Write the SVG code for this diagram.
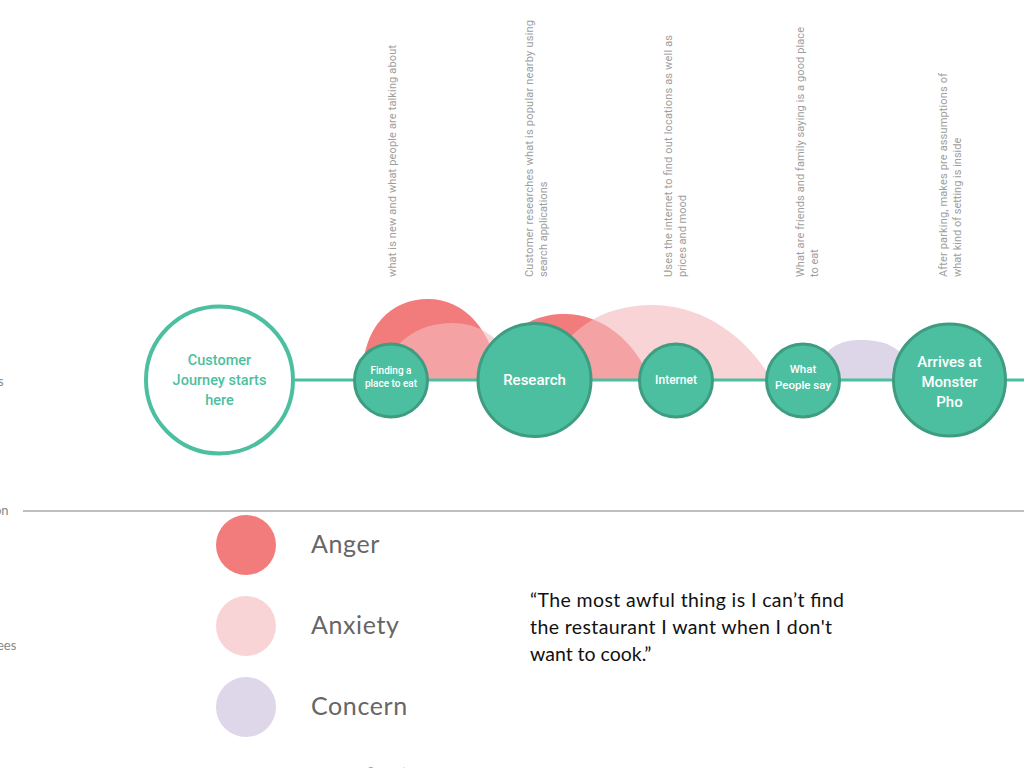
<svg xmlns="http://www.w3.org/2000/svg" width="1024" height="768" viewBox="0 0 1024 768">
<style>
.node{fill:#4dbfa1;stroke:#3e9c80;stroke-width:3}
.nl{font-family:Roboto,"Liberation Sans",sans-serif;font-weight:500;fill:#ffffff;text-anchor:middle}
.rot{font-family:Roboto,"Liberation Sans",sans-serif;font-size:11px;fill:#9e9e9e}
.side{font-family:Lato,"Noto Sans",sans-serif;font-size:13px;fill:#888888}
.leg{font-family:Lato,"Noto Sans",sans-serif;font-size:25px;fill:#666666;letter-spacing:0.6px}
.quote{font-family:Lato,"Noto Sans",sans-serif;font-size:19.5px;fill:#111111}
</style>
<rect width="1024" height="768" fill="#ffffff"/>

<g id="side-labels">
<text class="side" x="-2" y="386">s</text>
<text class="side" x="-6" y="515">on</text>
<text class="side" x="-3" y="650">ees</text>
</g>

<g id="descriptions">
<text class="rot" transform="translate(396,277) rotate(-90)" textLength="232">what is new and what people are talking about</text>
<text class="rot" transform="translate(533,277) rotate(-90)" textLength="257">Customer researches what is popular nearby using</text>
<text class="rot" transform="translate(547,277) rotate(-90)">search applications</text>
<text class="rot" transform="translate(672,277) rotate(-90)" textLength="242">Uses the internet to find out locations as well as</text>
<text class="rot" transform="translate(686,277) rotate(-90)">prices and mood</text>
<text class="rot" transform="translate(804,277) rotate(-90)" textLength="250">What are friends and family saying is a good place</text>
<text class="rot" transform="translate(818,277) rotate(-90)">to eat</text>
<text class="rot" transform="translate(947,277) rotate(-90)" textLength="204">After parking, makes pre assumptions of</text>
<text class="rot" transform="translate(961,277) rotate(-90)">what kind of setting is inside</text>
</g>

<g id="emotions">
<path d="M362 380 C362 325 392 299 428 299 C465 299 492 330 500 380 Z" fill="#f27b7b"/>
<path d="M495 380 C500 332 530 314 565 314 C602 314 636 342 650 380 Z" fill="#f27b7b"/>
<path d="M378 380 C390 342 418 323 452 323 C482 323 502 340 520 370 L520 380 Z" fill="#f5babd" fill-opacity="0.62"/>
<path d="M545 380 C562 330 602 305 652 305 C702 305 745 335 772 380 Z" fill="#f5babd" fill-opacity="0.62"/>
<path d="M815 380 C820 352 835 340 860 340 C885 340 897 346 908 362 L908 380 Z" fill="#ddd5e8"/>
</g>

<g id="connectors">
<line x1="295" y1="380" x2="1024" y2="380" stroke="#4dbfa1" stroke-width="3"/>
<line x1="23" y1="511" x2="1024" y2="511" stroke="#a8a8a8" stroke-width="1.5"/>
</g>

<g id="start">
<circle cx="219.5" cy="380" r="73.5" fill="#ffffff" stroke="#4dbfa1" stroke-width="4"/>
<text class="nl" style="fill:#4dbfa1;font-size:14.5px" x="219.5" y="365">Customer</text>
<text class="nl" style="fill:#4dbfa1;font-size:14.5px" x="219.5" y="385">Journey starts</text>
<text class="nl" style="fill:#4dbfa1;font-size:14.5px" x="219.5" y="405">here</text>
</g>

<g id="finding">
<circle class="node" cx="391" cy="380.5" r="36.5"/>
<text class="nl" style="font-size:10px" x="391" y="374">Finding a</text>
<text class="nl" style="font-size:10px" x="391" y="387">place to eat</text>
</g>

<g id="research">
<circle class="node" cx="534.5" cy="380" r="56.5"/>
<text class="nl" style="font-size:15px" x="534.5" y="385">Research</text>
</g>

<g id="internet">
<circle class="node" cx="676" cy="380.5" r="36.5"/>
<text class="nl" style="font-size:12px" x="676" y="384">Internet</text>
</g>

<g id="people">
<circle class="node" cx="803" cy="380.5" r="36.5"/>
<text class="nl" style="font-size:11.5px" x="803" y="373">What</text>
<text class="nl" style="font-size:11.5px" x="803" y="389">People say</text>
</g>

<g id="arrives">
<circle class="node" cx="949.5" cy="380" r="56"/>
<text class="nl" style="font-size:15px" x="949.5" y="367">Arrives at</text>
<text class="nl" style="font-size:15px" x="949.5" y="387">Monster</text>
<text class="nl" style="font-size:15px" x="949.5" y="407">Pho</text>
</g>

<g id="legend">
<circle cx="246" cy="545" r="30" fill="#f27b7b"/>
<text class="leg" x="311" y="553">Anger</text>
<circle cx="246" cy="626" r="30" fill="#f9d4d6"/>
<text class="leg" x="311" y="634">Anxiety</text>
<circle cx="246" cy="707" r="30" fill="#ded6e9"/>
<text class="leg" x="311" y="715">Concern</text>
</g>

<g id="quote">
<text class="quote" x="530" y="607" textLength="314">“The most awful thing is I can’t find</text>
<text class="quote" x="530" y="634" textLength="302">the restaurant I want when I don't</text>
<text class="quote" x="530" y="661">want to cook.”</text>
</g>

<text x="367" y="775" font-family="Roboto, 'Liberation Sans', sans-serif" font-size="11" fill="#9a9a9a">Computer</text>
</svg>
